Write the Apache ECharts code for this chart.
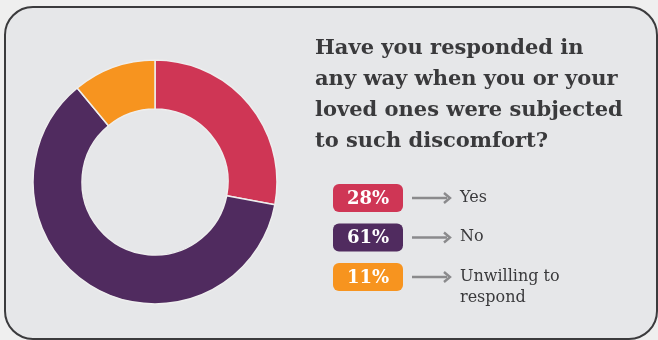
<!DOCTYPE html>
<html>
<head>
<meta charset="utf-8">
<script src="https://cdn.jsdelivr.net/npm/echarts@6/dist/echarts.min.js"></script>
<style>
  html, body { margin: 0; padding: 0; background: #efefef; }
  #chart { width: 658px; height: 340px; }
</style>
</head>
<body>
<div id="chart"></div>
<script>
// Survey answers and their shares (%)
const categories = ['Yes', 'No', 'Unwilling to\nrespond'];
const shares = [28, 61, 11];
const sliceColors = ['#cf3655', '#502b5f', '#f7941f'];
const question = 'Have you responded in\nany way when you or your\nloved ones were subjected\nto such discomfort?';

const SERIF = '"DejaVu Serif", "Liberation Serif", serif';
const textColor = '#3a3a3c';

// Legend rows: coloured badge with the share, an arrow, then the answer text
const legendTop = 184, rowStep = 39.5, badgeW = 70, badgeH = 28, badgeX = 333;
const legendEls = [];
categories.forEach(function (name, i) {
  const top = legendTop + i * rowStep;
  const cy = top + badgeH / 2;
  legendEls.push({
    type: 'rect',
    shape: { x: badgeX, y: top, width: badgeW, height: badgeH, r: 6 },
    style: { fill: sliceColors[i] }
  });
  legendEls.push({
    type: 'text',
    style: {
      text: shares[i] + '%', x: badgeX + badgeW / 2, y: cy + 1,
      align: 'center', verticalAlign: 'middle',
      font: 'bold 18px ' + SERIF, fill: '#ffffff'
    }
  });
  legendEls.push({
    type: 'line',
    shape: { x1: 412, y1: cy, x2: 447, y2: cy },
    style: { stroke: '#8a8a8c', lineWidth: 2.6 }
  });
  legendEls.push({
    type: 'polyline',
    shape: { points: [[444, cy - 5], [450, cy], [444, cy + 5]] },
    style: { stroke: '#8a8a8c', lineWidth: 2.4, fill: null, lineJoin: 'miter' }
  });
  legendEls.push({
    type: 'text',
    style: {
      text: name, x: 460, y: cy - 11,
      align: 'left', verticalAlign: 'top', lineHeight: 21,
      font: '16px ' + SERIF, fill: textColor
    }
  });
});

const chart = echarts.init(document.getElementById('chart'), null, { renderer: 'canvas' });
chart.setOption({
  backgroundColor: '#efefef',
  animation: false,
  graphic: {
    elements: [
      {
        type: 'rect', z: -10,
        shape: { x: 5, y: 7, width: 652, height: 332, r: 28 },
        style: { fill: '#e6e7e9', stroke: '#3b3b3d', lineWidth: 2 }
      },
      {
        type: 'text',
        style: {
          text: question, x: 315, y: 33,
          align: 'left', verticalAlign: 'top', lineHeight: 31,
          font: 'bold 21px ' + SERIF, fill: textColor
        }
      }
    ].concat(legendEls)
  },
  series: [{
    type: 'pie',
    center: [155, 182],
    radius: [73, 122],
    startAngle: 90,
    clockwise: true,
    silent: true,
    label: { show: false },
    labelLine: { show: false },
    itemStyle: { borderColor: '#eeeeee', borderWidth: 1.5 },
    data: categories.map(function (name, i) {
      return { name: name, value: shares[i], itemStyle: { color: sliceColors[i] } };
    })
  }]
});
</script>
</body>
</html>
